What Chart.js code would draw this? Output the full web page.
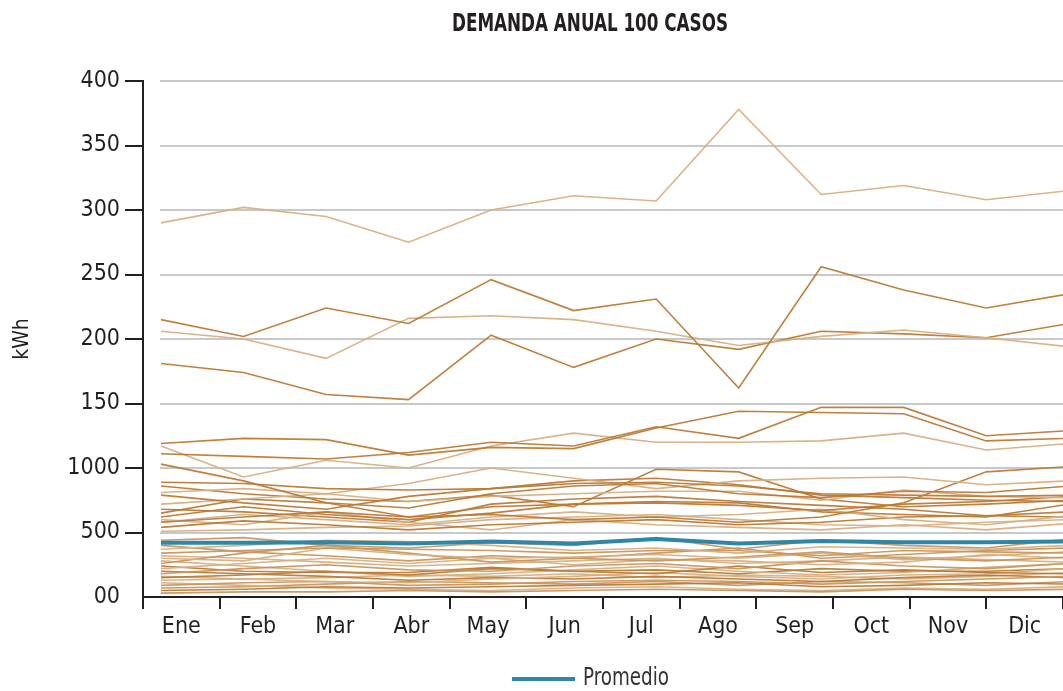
<!DOCTYPE html>
<html>
<head>
<meta charset="utf-8">
<script src="https://cdn.jsdelivr.net/npm/chart.js@4.4.1/dist/chart.umd.min.js"></script>
<style>
  html, body { margin: 0; padding: 0; background: #ffffff; overflow: hidden; }
  #wrap { width: 1063px; height: 691px; position: relative; }
</style>
</head>
<body>
<div id="wrap"><canvas id="grafico" width="1063" height="691"></canvas></div>
<script>
// Meses y etiquetas de los ejes
const meses = ['Ene', 'Feb', 'Mar', 'Abr', 'May', 'Jun', 'Jul', 'Ago', 'Sep', 'Oct', 'Nov', 'Dic'];
const yTickValues = [0, 50, 100, 150, 200, 250, 300, 350, 400];
const yTickLabels = ['00', '500', '1000', '150', '200', '250', '300', '350', '400'];
const titulo = 'DEMANDA ANUAL 100 CASOS';
const etiquetaY = 'kWh';
const etiquetaPromedio = 'Promedio';

// Demanda mensual (kWh) de cada caso
const c01 = [290, 302, 295, 275, 300, 311, 307, 378, 312, 319, 308, 315];
const c02 = [215, 202, 224, 212, 246, 222, 231, 162, 256, 238, 224, 235];
const c03 = [206, 200, 185, 216, 218, 215, 206, 195, 202, 207, 201, 194];
const c04 = [181, 174, 157, 153, 203, 178, 200, 192, 206, 204, 201, 212];
const c05 = [119, 123, 122, 110, 116, 115, 131, 144, 143, 142, 121, 123];
const c06 = [111, 109, 107, 112, 120, 117, 132, 123, 147, 147, 125, 129];
const c07 = [117, 93, 106, 100, 117, 127, 120, 120, 121, 127, 114, 119];
const c08 = [103, 90, 73, 69, 80, 86, 88, 80, 77, 82, 81, 86];
const c09 = [89, 88, 84, 83, 84, 88, 89, 86, 80, 79, 78, 79];
const c10 = [81, 84, 80, 88, 100, 92, 84, 90, 92, 93, 87, 90];
const c11 = [79, 73, 68, 78, 84, 90, 92, 87, 79, 77, 75, 74];
const c12 = [72, 76, 80, 74, 78, 80, 82, 82, 75, 83, 78, 77];
const c13 = [65, 76, 73, 62, 70, 72, 73, 71, 67, 72, 74, 78];
const c14 = [86, 80, 76, 74, 79, 70, 99, 97, 76, 70, 72, 75];
const c15 = [58, 62, 66, 62, 64, 60, 62, 58, 62, 73, 97, 101];
const c16 = [58, 64, 60, 56, 62, 66, 62, 64, 68, 60, 56, 63];
const c17 = [54, 59, 56, 52, 56, 58, 60, 56, 58, 62, 63, 66];
const c18 = [51, 52, 54, 55, 60, 62, 64, 60, 56, 55, 58, 60];
const c19 = [62, 70, 64, 60, 65, 72, 74, 73, 66, 64, 62, 72];
const c20 = [60, 56, 66, 58, 52, 60, 56, 54, 52, 56, 52, 57];
const c21 = [68, 66, 62, 58, 72, 76, 78, 74, 71, 68, 63, 62];
const c22 = [37, 40, 44, 43, 40, 36, 38, 34, 39, 38, 37, 40];
const c23 = [34, 36, 38, 37, 36, 34, 36, 36, 32, 36, 35, 34];
const c24 = [30, 28, 38, 33, 30, 31, 33, 30, 34, 29, 32, 35];
const c25 = [26, 34, 40, 34, 27, 30, 28, 31, 35, 30, 28, 31];
const c26 = [22, 26, 30, 26, 30, 25, 29, 28, 25, 27, 33, 30];
const c27 = [18, 22, 25, 21, 20, 24, 26, 22, 28, 24, 22, 26];
const c28 = [15, 17, 20, 17, 22, 20, 18, 24, 19, 21, 19, 18];
const c29 = [13, 14, 12, 11, 14, 16, 19, 16, 14, 17, 18, 22];
const c30 = [9, 11, 12, 9, 10, 12, 13, 12, 10, 12, 14, 16];
const c31 = [5, 6, 8, 7, 8, 9, 10, 11, 8, 9, 11, 10];
const c32 = [3, 4, 4, 5, 4, 5, 6, 5, 4, 6, 5, 6];
const c33 = [28, 24, 20, 16, 18, 21, 24, 20, 17, 19, 23, 26];
const c34 = [40, 35, 32, 28, 32, 30, 34, 38, 30, 33, 36, 38];
const c35 = [20, 18, 16, 13, 15, 14, 16, 14, 12, 15, 17, 15];
const c36 = [11, 9, 7, 6, 5, 7, 8, 6, 5, 7, 6, 8];
const c37 = [44, 46, 40, 38, 42, 40, 46, 37, 44, 40, 38, 45];
const c38 = [32, 30, 27, 24, 26, 28, 30, 26, 28, 31, 29, 27];
const c39 = [24, 20, 19, 19, 23, 20, 21, 18, 22, 20, 20, 22];
const c40 = [7, 8, 10, 12, 11, 10, 12, 9, 12, 11, 9, 12];
const c41 = [16, 14, 15, 17, 16, 18, 15, 17, 16, 14, 16, 19];
const promedio = [42, 42, 42.5, 41.5, 43, 41.5, 45, 41.5, 43.5, 42.5, 42.5, 43];

const casos = [c01, c02, c03, c04, c05, c06, c07, c08, c09, c10, c11, c12, c13, c14, c15, c16, c17, c18, c19, c20,
  c21, c22, c23, c24, c25, c26, c27, c28, c29, c30, c31, c32, c33, c34, c35, c36, c37, c38, c39, c40, c41];

// Tonos de línea (claro / oscuro / medio) asignados por caso
const tonos = ['rgba(214,176,130,0.95)', 'rgba(186,122,52,0.95)', 'rgba(200,150,92,0.95)'];
const tonoPorCaso = [0, 1, 0, 1, 1, 1, 0, 1, 1, 0, 1, 0, 1, 1, 1, 0, 1, 0, 1, 0,
  1, 0, 2, 0, 2, 0, 2, 1, 0, 2, 1, 2, 0, 2, 1, 0, 2, 0, 1, 2, 0];
const colorPromedio = '#2f87a8';

const FUENTE = "'Liberation Sans Narrow', 'DejaVu Sans Condensed', 'Roboto', sans-serif";
const TINTA = '#231f20';
Chart.defaults.font.family = FUENTE;

const aPuntos = serie => serie.map((v, i) => ({ x: i, y: v }));

const datasets = casos.map((serie, k) => ({
  label: 'Caso ' + (k + 1),
  data: aPuntos(serie),
  borderColor: tonos[tonoPorCaso[k]],
  borderWidth: 1.6,
  xAxisID: 'xd',
  yAxisID: 'y',
  order: 1
}));
datasets.push({
  label: etiquetaPromedio,
  data: aPuntos(promedio),
  borderColor: colorPromedio,
  borderWidth: 4,
  xAxisID: 'xd',
  yAxisID: 'y',
  order: -1
});

// Líneas guía horizontales, separadas del eje vertical
const lineasGuia = {
  id: 'lineasGuia',
  beforeDatasetsDraw(chart) {
    const { ctx, chartArea, scales } = chart;
    ctx.save();
    ctx.strokeStyle = '#c6c8ca';
    ctx.lineWidth = 2;
    yTickValues.filter(v => v > 0).forEach(v => {
      const py = Math.round(scales.y.getPixelForValue(v));
      ctx.beginPath();
      ctx.moveTo(160, py);
      ctx.lineTo(chartArea.right, py);
      ctx.stroke();
    });
    ctx.restore();
  }
};

// Texto estrechado horizontalmente hasta un ancho dado
function textoAjustado(ctx, texto, x, y, ancho, alinear) {
  const w = ctx.measureText(texto).width;
  const k = Math.min(1, ancho / w);
  ctx.save();
  ctx.translate(x, y);
  ctx.scale(k, 1);
  ctx.textAlign = alinear;
  ctx.fillText(texto, 0, 0);
  ctx.restore();
}

// Título y leyenda del promedio
const rotulos = {
  id: 'rotulos',
  afterDraw(chart) {
    const { ctx } = chart;
    ctx.save();
    ctx.fillStyle = TINTA;
    ctx.textBaseline = 'middle';
    ctx.font = 'bold 24px ' + FUENTE;
    textoAjustado(ctx, titulo, 590, 25, 276, 'center');

    ctx.strokeStyle = colorPromedio;
    ctx.lineWidth = 4;
    ctx.beginPath();
    ctx.moveTo(512, 679);
    ctx.lineTo(575, 679);
    ctx.stroke();
    ctx.font = '24px ' + FUENTE;
    ctx.fillStyle = '#333333';
    textoAjustado(ctx, etiquetaPromedio, 583, 679, 86, 'left');
    ctx.restore();
  }
};

new Chart(document.getElementById('grafico'), {
  type: 'line',
  data: { datasets },
  options: {
    responsive: false,
    animation: false,
    layout: { padding: { top: 81, left: 0, right: 0, bottom: 0 } },
    elements: { point: { radius: 0 }, line: { tension: 0 } },
    plugins: { legend: { display: false }, title: { display: false }, tooltip: { enabled: false } },
    scales: {
      x: {
        type: 'category',
        labels: meses,
        offset: true,
        position: 'bottom',
        grid: { display: true, drawOnChartArea: false, offset: true, tickLength: 12, color: TINTA, lineWidth: 2 },
        border: { display: true, color: TINTA, width: 2 },
        ticks: { color: TINTA, font: { size: 23 }, padding: 4, maxRotation: 0, autoSkip: false },
        afterFit(s) { s.height = 94; }
      },
      xd: { type: 'linear', display: false, min: -0.218, max: 10.93 },
      y: {
        type: 'linear',
        position: 'left',
        min: 0,
        max: 400,
        afterBuildTicks(s) { s.ticks = yTickValues.map(v => ({ value: v })); },
        ticks: {
          color: TINTA,
          font: { size: 23 },
          padding: 5,
          callback: v => yTickLabels[yTickValues.indexOf(v)]
        },
        grid: {
          drawOnChartArea: false,
          tickLength: 18,
          lineWidth: 2,
          tickColor: c => (c.tick && c.tick.value === 0) ? 'rgba(0,0,0,0)' : TINTA
        },
        border: { display: true, color: TINTA, width: 2 },
        title: { display: true, text: etiquetaY, color: TINTA, font: { size: 21 }, padding: { top: 10, bottom: 0 } },
        afterFit(s) { s.width = 143; }
      }
    }
  },
  plugins: [lineasGuia, rotulos]
});
</script>
</body>
</html>
